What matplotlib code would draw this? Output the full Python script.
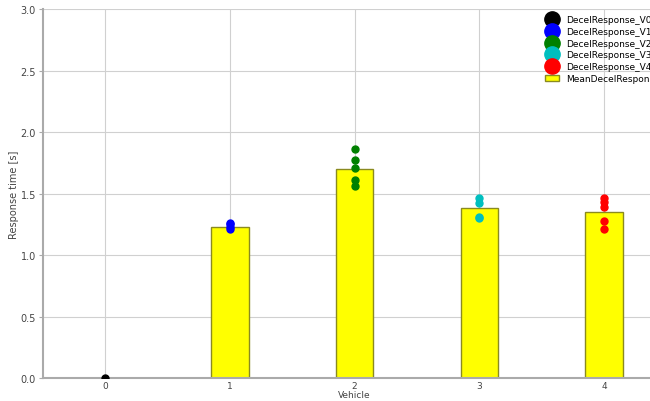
import numpy as np
from matplotlib import pyplot as plt

# values per vehicle
vehicles = [0, 1, 2, 3, 4]
resp_v0 = [0.0]
resp_v1 = [1.21, 1.23, 1.25, 1.26]
resp_v2 = [1.86, 1.77, 1.71, 1.61, 1.56]
resp_v3 = [1.46, 1.42, 1.31, 1.30]
resp_v4 = [1.46, 1.43, 1.39, 1.28, 1.21]
mean_resp = [0.0, 1.23, 1.70, 1.38, 1.35]

all_resp = [resp_v0, resp_v1, resp_v2, resp_v3, resp_v4]
colors = ["black", "blue", "green", "c", "red"]
labels = ["DecelResponse_V0", "DecelResponse_V1", "DecelResponse_V2",
          "DecelResponse_V3", "DecelResponse_V4"]

fig = plt.figure(figsize=(6.5, 4.02), dpi=100)
ax = fig.add_axes([0.066, 0.057, 0.959, 0.918])

for i in range(len(vehicles)):
    ax.plot([vehicles[i]]*len(all_resp[i]), all_resp[i], "o", color=colors[i],
            markersize=5, label=labels[i], zorder=3)

ax.bar(vehicles, mean_resp, width=0.3, color="yellow", edgecolor="#8a8a20",
       linewidth=1, label="MeanDecelResponse", zorder=2)

ax.set_xlim(-0.5, 4.5)
ax.set_ylim(0, 3.0)
ax.set_xticks(vehicles)
ax.set_yticks(np.arange(0, 3.01, 0.5))
ax.grid(True, color="#d0d0d0", linewidth=0.8, zorder=0)
ax.set_axisbelow(True)
ax.set_xlabel("Vehicle", fontsize=6.5, color="#444444", labelpad=0)
ax.set_ylabel("Response time [s]", fontsize=7, color="#444444", labelpad=1)
ax.tick_params(labelsize=7, colors="#444444", length=3, pad=2, color="#aaaaaa")
ax.tick_params(axis="x", length=0, pad=2, labelsize=6.5)
for s in ["left", "bottom"]:
    ax.spines[s].set_color("#aaaaaa")
    ax.spines[s].set_linewidth(1.5)
for s in ["top", "right"]:
    ax.spines[s].set_visible(False)

ax.legend(loc="upper right", fontsize=6.5, markerscale=2.2, frameon=False,
          handlelength=1.5, labelspacing=0.3, borderaxespad=0.3)

plt.savefig("out.png", dpi=100)
